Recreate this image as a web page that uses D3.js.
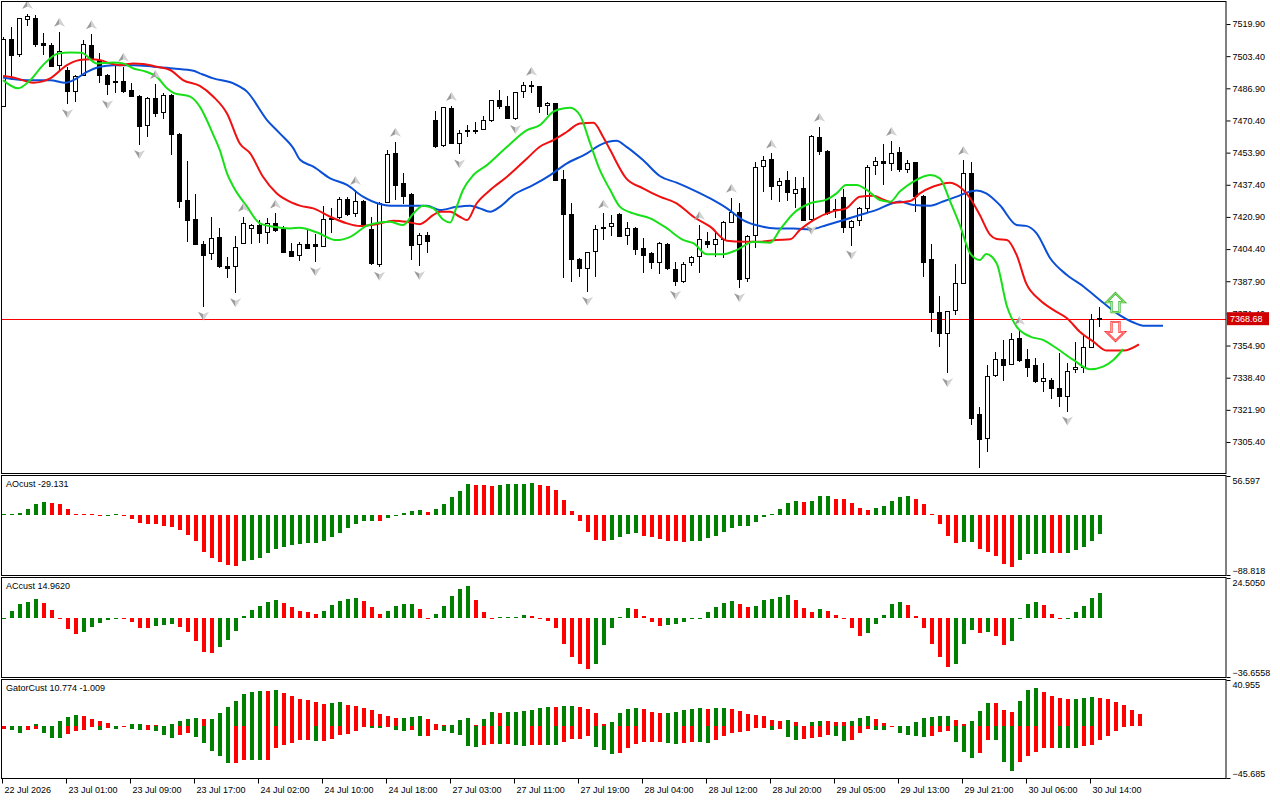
<!DOCTYPE html>
<html>
<head>
<meta charset="utf-8">
<script src="https://cdnjs.cloudflare.com/ajax/libs/d3/7.8.5/d3.min.js"></script>
<style>
	body { margin: 0; background: #ffffff; }
	svg text { font-family: "Liberation Sans", Arial, sans-serif; font-size: 9px; fill: #000000; }
</style>
</head>
<body>
<div id="chart"></div>
<script>
//H1 candles, oldest first
var opens = [7477.5,7511.7,7504.3,7522.3,7522.8,7509.8,7509.1,7498.7,7495.8,7485.3,7493.7,7509.1,7501.4,7493.7,7490.3,7490.6,7485.7,7482.9,7467.7,7481.7,
	7474.6,7483.3,7463.4,7429.1,7419.8,7406.8,7402.2,7410.6,7395.4,7395.4,7407.3,7415.0,7416.7,7413.0,7417.4,7414.5,7403.1,7401.3,7406.8,7406.5,
	7405.6,7419.6,7420.6,7429.6,7422.7,7429.0,7414.2,7396.5,7428.2,7453.5,7437.8,7432.5,7406.8,7411.6,7470.6,7457.4,7476.8,7458.6,7464.5,7465.0,
	7465.8,7470.3,7480.9,7477.8,7471.5,7485.2,7488.2,7487.7,7478.3,7479.2,7440.3,7421.9,7399.1,7394.5,7403.0,7415.0,7415.9,7421.9,7411.3,7415.0,
	7404.8,7401.9,7397.6,7406.8,7394.0,7387.7,7397.6,7400.5,7408.5,7406.7,7409.1,7418.1,7423.3,7389.4,7411.6,7447.0,7450.5,7436.8,7439.8,7433.0,
	7435.6,7419.7,7461.7,7454.4,7424.5,7431.0,7415.4,7419.3,7425.3,7447.5,7449.1,7448.4,7453.9,7445.0,7448.8,7431.3,7398.8,7372.0,7361.2,7372.8,
	7386.8,7443.3,7319.3,7307.3,7339.3,7347.5,7345.3,7358.3,7347.5,7344.4,7336.7,7337.2,7333.0,7328.7,7342.4,7343.7,7354.0,7368.4];
var highs = [7513.4,7518.5,7522.8,7525.0,7524.5,7515.1,7510.0,7515.9,7498.0,7493.7,7511.7,7514.6,7504.8,7494.1,7498.8,7498.0,7489.4,7483.4,7482.3,7489.1,
	7484.7,7483.8,7464.1,7449.6,7432.5,7408.5,7421.0,7415.0,7400.5,7411.1,7421.0,7417.3,7419.3,7420.2,7422.7,7416.2,7407.7,7408.0,7414.2,7412.1,
	7426.7,7425.3,7431.3,7430.9,7434.7,7429.6,7421.0,7428.7,7455.2,7459.5,7443.6,7433.0,7412.5,7413.3,7475.2,7477.2,7477.8,7465.5,7468.0,7469.6,
	7472.7,7480.9,7486.0,7482.9,7485.2,7490.3,7490.8,7488.1,7480.0,7479.5,7444.9,7427.8,7399.6,7402.7,7416.7,7422.7,7421.9,7422.7,7418.5,7415.9,
	7409.9,7403.1,7408.2,7407.3,7397.9,7397.9,7400.8,7416.8,7413.0,7413.3,7419.0,7430.8,7427.9,7411.6,7448.9,7452.2,7453.5,7440.7,7444.5,7441.6,
	7441.6,7463.0,7467.2,7455.2,7429.9,7435.1,7419.3,7426.2,7447.5,7451.8,7458.5,7459.9,7457.0,7450.1,7449.3,7432.2,7407.0,7380.5,7372.8,7396.8,
	7450.1,7449.3,7323.6,7344.9,7351.4,7357.8,7361.5,7362.9,7353.0,7348.4,7345.8,7338.1,7350.9,7346.1,7356.9,7360.3,7371.1,7374.9];
var lows = [7477.1,7491.1,7503.1,7518.9,7507.9,7504.0,7497.6,7495.4,7478.7,7480.0,7493.2,7501.4,7489.4,7483.4,7484.3,7484.7,7482.3,7457.8,7461.7,7472.3,
	7471.3,7452.7,7425.3,7408.2,7406.5,7374.8,7398.8,7394.5,7389.4,7381.7,7406.8,7406.8,7407.7,7406.8,7413.3,7402.5,7400.1,7398.4,7404.3,7397.6,
	7405.3,7412.8,7419.6,7421.3,7421.0,7415.5,7396.2,7395.3,7427.8,7429.6,7427.5,7398.8,7395.7,7402.5,7456.1,7456.9,7458.3,7453.0,7461.7,7463.4,
	7465.5,7469.8,7476.3,7471.0,7470.6,7482.1,7484.3,7474.0,7473.2,7439.5,7389.4,7387.7,7390.2,7382.5,7390.2,7409.0,7411.1,7410.8,7406.5,7401.4,
	7392.0,7394.0,7391.4,7393.7,7385.6,7387.2,7395.9,7392.3,7404.8,7400.5,7399.6,7418.0,7384.3,7387.7,7404.8,7433.9,7429.6,7428.7,7429.1,7425.3,
	7419.0,7419.0,7452.7,7421.9,7420.2,7412.8,7406.2,7416.2,7422.7,7442.4,7437.3,7444.6,7444.1,7443.6,7423.6,7389.9,7362.0,7354.0,7340.7,7370.6,
	7386.5,7314.2,7291.9,7300.5,7338.9,7336.9,7344.9,7346.6,7338.6,7335.5,7331.3,7327.3,7323.6,7321.0,7340.7,7340.7,7353.5,7364.6];
var closes = [7512.0,7503.6,7522.5,7523.7,7509.4,7509.1,7498.0,7505.7,7485.2,7493.0,7509.4,7502.3,7493.4,7489.1,7490.0,7485.2,7482.6,7467.2,7481.7,7474.0,
	7483.3,7463.3,7428.7,7419.0,7406.8,7401.3,7409.9,7395.4,7394.5,7405.3,7417.6,7416.4,7412.5,7417.6,7413.8,7402.7,7400.5,7406.8,7404.8,7405.8,
	7419.6,7420.0,7429.6,7421.9,7428.7,7415.9,7397.1,7427.8,7453.0,7436.9,7431.6,7406.1,7411.6,7408.2,7457.3,7477.1,7458.6,7463.8,7465.5,7465.1,
	7470.3,7480.4,7477.5,7471.5,7484.8,7488.6,7488.6,7477.5,7479.2,7439.8,7421.9,7398.8,7394.5,7402.5,7414.5,7415.5,7417.6,7411.1,7415.0,7404.3,
	7401.0,7397.4,7407.3,7394.5,7387.7,7396.6,7400.0,7409.1,7406.7,7409.4,7418.1,7423.1,7388.9,7410.8,7446.2,7450.1,7436.4,7439.3,7433.3,7435.2,
	7419.3,7462.4,7454.4,7422.7,7424.8,7415.4,7418.8,7425.3,7446.3,7449.1,7448.4,7453.5,7445.0,7448.4,7431.3,7397.5,7371.8,7361.2,7372.3,7386.8,
	7443.3,7317.6,7306.8,7338.9,7347.5,7344.6,7357.8,7347.2,7343.6,7336.4,7337.8,7333.0,7328.7,7341.5,7343.7,7354.0,7368.4,7368.68];
var bidPrice = 7368.68;

//Bars carrying a fractal arrow
var fractalUp = [3,7,11,15,19,30,34,44,49,56,66,75,87,91,96,102,111,120,127];
var fractalDown = [8,13,17,25,29,39,47,52,57,64,73,84,92,101,106,118,122,133];

//Alligator lines as [bar, price] points (they run past the last bar)
var jawPoints = [[0,7492.5],[3,7491.1],[5.9,7491.1],[7.8,7489.8],[9.2,7492.0],[10.5,7495.4],[12.1,7498.0],[13.8,7498.8],[16.3,7498.8],[18.8,7498.0],
	[21.3,7497.1],[23.8,7495.9],[24.6,7494.6],[26.3,7492.0],[28.8,7489.4],[30.5,7485.2],[33,7470.6],[34.6,7463.8],[36.3,7456.1],[37.1,7450.4],
	[38.8,7446.7],[40.9,7440.7],[43,7437.3],[45,7431.3],[47.1,7427.5],[48.4,7426.7],[50.5,7426.7],[53,7426.7],[54.6,7424.4],[56.7,7426.1],
	[58.4,7426.7],[59.6,7425.3],[60.9,7423.6],[62.1,7426.1],[63.8,7432.1],[66.3,7437.3],[68.4,7442.4],[70.5,7448.4],[73,7453.5],[74.6,7457.8],
	[76.7,7460.0],[77.9,7457.0],[80,7450.1],[82.1,7441.9],[84.2,7438.5],[86.3,7434.7],[88.4,7430.4],[90.5,7425.3],[92.5,7419.3],[94.6,7416.2],
	[96.7,7415.0],[98.8,7415.0],[100.9,7414.5],[103,7416.8],[105.1,7419.3],[107.1,7421.9],[109.2,7424.5],[110.9,7427.5],[112.1,7428.8],[113.8,7427.0],
	[115.9,7426.7],[117.5,7428.8],[119.2,7431.3],[120.5,7433.4],[121.7,7434.4],[122.9,7433.0],[124.6,7427.0],[126.7,7416.8],[127.9,7416.3],[129.2,7412.5],
	[130.9,7399.7],[133,7391.1],[135.1,7385.1],[137.1,7378.3],[139.2,7371.5],[141.3,7366.7],[142.5,7365.1],[145,7365.1]];
var teethPoints = [[0,7493.2],[1.3,7492.5],[3.8,7489.8],[5.9,7492.0],[8,7498.8],[9.6,7501.4],[10.9,7501.8],[12.1,7501.4],[13.4,7499.7],[14.6,7498.8],
	[16.3,7499.7],[17.5,7499.4],[19.2,7498.0],[20.9,7496.3],[22.5,7491.1],[24.6,7488.1],[26.3,7482.6],[28,7474.0],[29.6,7458.6],[30.9,7453.5],
	[32.5,7441.5],[34.2,7433.0],[36.3,7427.9],[37.1,7426.7],[38.8,7425.3],[40.9,7421.0],[43,7417.6],[44.6,7416.2],[46.7,7417.1],[48.8,7419.0],
	[50.5,7418.4],[52.1,7417.2],[53.8,7421.9],[54.6,7423.6],[55.9,7423.6],[57.1,7421.0],[58,7419.3],[59.2,7427.8],[60.9,7434.7],[63,7441.5],
	[65.5,7450.9],[67.1,7456.9],[68.8,7460.3],[70.5,7464.6],[72.1,7468.9],[73.8,7469.2],[75,7462.1],[75.9,7455.2],[77.9,7440.7],[80,7435.6],
	[82.1,7431.3],[84.2,7427.9],[86.3,7421.0],[88.4,7415.9],[90.5,7408.7],[92.5,7408.2],[94.6,7408.2],[96.7,7409.1],[98.4,7409.4],[99.6,7414.2],
	[101.3,7419.3],[103.8,7423.9],[105.4,7425.3],[107.1,7431.3],[108.8,7431.8],[110,7429.9],[111.3,7428.2],[113.4,7429.1],[114.6,7433.0],[116.3,7436.5],
	[118.4,7438.5],[119.2,7437.3],[120.9,7430.5],[122.1,7421.9],[123.4,7411.7],[124.2,7409.6],[125.5,7409.1],[126.7,7401.4],[127.9,7386.8],[129.6,7378.3],
	[131.3,7373.2],[133,7368.9],[134.6,7362.0],[136.3,7356.9],[138,7352.3],[140.1,7352.3],[142,7355.5]];
var lipsPoints = [[0,7491.1],[1.9,7486.9],[3.4,7491.1],[5,7498.8],[6.9,7504.8],[8.4,7505.3],[9.8,7505.2],[11.7,7499.7],[13.8,7500.2],[15,7499.7],
	[16.3,7497.1],[17.9,7495.4],[19.2,7492.9],[20.5,7486.9],[21.3,7484.6],[23.4,7482.6],[24.6,7477.5],[26.3,7462.9],[27.1,7455.2],[28,7443.3],
	[28.8,7436.4],[30.5,7426.2],[32.1,7417.6],[33.8,7415.9],[35.9,7415.0],[37.1,7415.4],[39.2,7413.0],[41.7,7409.0],[43.4,7410.7],[45.5,7416.4],
	[47.1,7418.1],[48.4,7418.4],[50,7416.7],[51.3,7422.7],[52.5,7426.7],[53.8,7425.3],[55,7419.6],[55.9,7418.1],[56.7,7426.1],[57.5,7434.7],
	[58.8,7442.4],[60.5,7447.5],[63,7456.9],[65.5,7465.5],[67.1,7468.0],[68.8,7474.9],[70,7476.6],[70.9,7476.9],[72.1,7473.2],[73.4,7458.6],
	[74.6,7445.0],[75.9,7434.7],[77.1,7426.2],[78.8,7422.7],[80.9,7420.2],[83,7415.0],[85,7409.1],[86.3,7407.4],[88,7401.7],[90,7401.7],
	[91.7,7403.9],[93.8,7408.2],[95.9,7407.7],[97.1,7414.2],[98.8,7422.7],[100.9,7427.9],[103,7429.9],[104.2,7433.0],[105.4,7437.3],[106.7,7437.3],
	[108,7434.7],[109.6,7429.6],[110.9,7428.7],[112.1,7433.9],[113.8,7439.0],[115.9,7442.4],[117.1,7440.7],[118.4,7428.8],[119.6,7416.8],[120.9,7402.2],
	[122.1,7398.8],[122.9,7401.9],[124.2,7397.1],[125.5,7374.9],[126.7,7364.6],[128.4,7359.5],[130,7357.8],[131.7,7353.5],[133.8,7347.5],[135.9,7342.7],
	[137.5,7344.1],[138.8,7347.5],[140,7353.0]];

//Signal arrows at the right end: [bar, price]
var signalUp = [139, 7376.9];
var signalDown = [139, 7362.1];

//Awesome oscillator, one value per bar
var aoValues = [0.3,1.5,2.0,7.5,16,18.5,17.5,15.5,8,0.8,0.5,0.2,-0.3,-0.1,0.1,-0.5,-7,-12,-13.5,-14.5,
	-16.5,-19,-22,-29.5,-39.5,-55,-63.5,-69.5,-74,-76,-68.5,-66.5,-64.5,-56,-51,-47.5,-45,-43.5,-42.5,-41.5,
	-38.5,-33,-26.5,-20,-13.5,-10,-9.8,-10,-5,-0.3,2.5,4.5,7,3.5,7.5,16,26,34.5,45,43.5,
	43,41.5,44,44.2,44.4,45.5,45.7,44,42.5,36.5,21.5,5,-9.5,-26,-38,-38.2,-37,-33.5,-28.5,-27,
	-31,-33.5,-36.5,-38.5,-38.7,-41,-39.5,-39.3,-35,-31,-26,-20,-17,-16.8,-11,-3.5,1.5,8,17.5,20,
	18.5,20.2,26.5,26.7,23.5,23,17,9,6.5,9,13,20,25.5,26.5,22.5,15.5,1.5,-14.5,-31.5,-42.5,
	-41,-40.8,-50,-54.5,-61,-72.5,-77,-66.5,-58.5,-57.5,-56,-56.2,-56.4,-56,-51.5,-47.5,-38.5,-29.131];

//Accelerator oscillator, one value per bar
var acValues = [-0.5,4.4,8.6,9.5,11.5,9.2,5.0,-0.3,-6.7,-9.9,-8.8,-5.5,-3.6,-1.7,-0.3,-0.6,-2.9,-6.1,-6.2,-5.0,
	-4.4,-4.0,-5.5,-8.6,-14.5,-21.4,-21.8,-18.0,-13.9,-8.2,1.2,5.0,7.1,9.5,10.7,9.0,6.3,4.4,3.6,2.5,
	4.4,7.6,10.1,11.6,12.0,10.1,6.3,2.5,4.0,6.9,8.2,8.3,5.3,-0.2,2.3,6.9,13.2,17.6,19.5,10.7,
	3.8,-0.3,0.2,0.3,0.6,1.5,1.1,-0.8,-2.3,-6.1,-16.2,-24.4,-28.8,-32.0,-28.8,-16.6,-6.1,0.6,5.7,5.6,
	1.0,-2.9,-5.0,-4.4,-4.2,-2.9,-0.8,-0.4,3.4,6.3,8.8,10.1,8.2,6.3,7.1,10.9,11.6,12.6,13.9,10.9,
	5.9,3.4,5.3,4.4,1.9,-0.2,-6.1,-11.1,-9.5,-3.8,1.9,8.2,9.5,7.6,1.3,-6.1,-16.2,-24.4,-30.7,-28.4,
	-16.2,-7.4,-9.2,-8.6,-11.1,-16.8,-14.3,-0.1,8.2,9.5,7.6,2.5,-0.1,0.1,3.2,6.9,12.0,14.962];

//Gator oscillator: upper runs to bar 142, lower to bar 140
var gatorUpper = [0,0,0,0,1.8,0.6,0,5.1,8.1,9.9,8.7,6.3,5.1,2.7,0,0,1.8,2.1,0.9,0.9,
	0,1.8,4.5,6.3,7.5,6.3,6.9,11.4,17.1,22.2,28.5,30.6,31.2,31.1,32.1,29.1,26.7,24.0,23.4,21.3,
	20.1,20.2,21.3,19.2,18.3,15.9,14.1,10.8,9.0,7.2,7.8,8.1,9.0,6.3,1.8,0.9,1.0,5.4,7.2,0.9,
	6.3,12.3,11.4,12.3,12.4,13.2,14.1,15.9,16.8,16.7,17.7,17.8,16.8,15.0,11.4,2.4,4.2,11.4,15.0,15.9,
	15.0,12.3,11.4,11.5,12.3,14.1,15.0,15.9,15.0,15.9,16.0,15.0,13.2,10.5,9.6,8.7,6.0,5.1,5.2,4.2,
	0,4.2,5.1,5.0,4.2,4.1,5.1,7.8,8.7,6.9,3.3,0,0,0,4.2,7.2,8.1,8.7,8.8,6.0,
	1.8,5.1,13.2,20.4,20.3,14.1,12.3,22.2,32.1,33.9,30.3,27.0,24.9,24.0,24.1,24.9,25.8,24.9,24.0,21.3,
	18.9,14.1,10.774];
var gatorLower = [-2.7,-3.6,-6.3,-3.6,-2.7,-6.3,-9.9,-10.2,-7.2,-4.5,-3.6,-0.9,-3.6,-1.8,-2.7,-0.6,-2.7,-3.6,-3.6,-4.5,
	-7.8,-9.9,-7.8,-6.3,-9.0,-14.4,-21.9,-26.1,-32.4,-32.3,-29.7,-30.0,-30.1,-29.9,-18.9,-16.8,-14.7,-11.7,-11.7,-12.9,
	-12.9,-11.1,-7.8,-6.9,-3.9,-0.9,-1.8,-1.9,-0.9,-3.6,-3.7,-3.0,-8.4,-8.4,-3.0,-3.9,-5.7,-7.5,-17.4,-18.3,
	-16.5,-15.6,-15.7,-15.6,-16.5,-17.4,-16.5,-16.5,-16.6,-16.7,-13.8,-11.1,-10.8,-8.4,-18.3,-21.0,-24.6,-23.7,-19.2,-15.6,
	-13.8,-13.8,-13.8,-14.7,-15.6,-14.7,-13.8,-13.9,-14.7,-12.0,-8.4,-5.7,-4.8,-3.9,-1.2,-1.2,-3.0,-2.1,-9.3,-12.0,
	-11.1,-10.2,-9.3,-7.5,-8.4,-12.9,-12.0,-5.7,-2.1,-3.0,-3.1,-0.6,-5.7,-7.5,-8.4,-9.3,-8.4,-4.8,-3.9,-13.8,
	-22.8,-28.2,-23.7,-12.0,-12.1,-31.8,-39.9,-31.8,-26.4,-22.8,-19.2,-19.2,-19.3,-19.4,-19.5,-17.4,-16.5,-12.0,-8.4,-3.9,
	-1.009];

//Axis labels
var priceTicks = [7519.90,7503.40,7486.90,7470.40,7453.90,7437.40,7420.90,7404.40,7387.90,7371.40,7354.90,7338.40,7321.90,7305.40];
var timeLabels = ["22 Jul 2026","23 Jul 01:00","23 Jul 09:00","23 Jul 17:00","24 Jul 02:00","24 Jul 10:00","24 Jul 18:00","27 Jul 03:00","27 Jul 11:00",
	"27 Jul 19:00","28 Jul 04:00","28 Jul 12:00","28 Jul 20:00","29 Jul 05:00","29 Jul 13:00","29 Jul 21:00","30 Jul 06:00","30 Jul 14:00"];
var labelStep = 8;

//Panel geometry
var plotRight = 1226;
var panels = {
	main:  {top: 1, bottom: 473, min: 7290.0, max: 7531.2},
	ao:    {top: 475, bottom: 575, min: -88.818, max: 56.597, label: "AOcust -29.131"},
	ac:    {top: 577, bottom: 677, min: -36.6558, max: 24.5050, label: "ACcust 14.9620"},
	gator: {top: 679, bottom: 778, min: -45.685, max: 40.955, label: "GatorCust 10.774 -1.009"}
};

var green = "#008000", red = "#ff0000";

var svg = d3.select("#chart")
	.append("svg")
	.attr("width", 1280)
	.attr("height", 800);

//One bar every 8 px
var x = d3.scaleLinear()
	.domain([0, 137])
	.range([3, 3 + 8 * 137]);

var yMain = d3.scaleLinear()
	.domain([panels.main.min, panels.main.max])
	.range([panels.main.bottom - 1, panels.main.top + 1]);

function panelScale(p)
{
	return d3.scaleLinear()
		.domain([p.min, p.max])
		.range([p.bottom, p.top + 1]);
}
var yAO = panelScale(panels.ao);
var yAC = panelScale(panels.ac);
var yGator = panelScale(panels.gator);

//Clip for every panel
Object.keys(panels).forEach(function(key)
{
	var p = panels[key];
	svg.append("clipPath")
		.attr("id", "clip-" + key)
		.append("rect")
		.attr("x", 1)
		.attr("y", p.top)
		.attr("width", plotRight - 1)
		.attr("height", p.bottom - p.top);
});

function panelGroup(key)
{
	return svg.append("g").attr("clip-path", "url(#clip-" + key + ")");
}

//Main chart
var mainG = panelGroup("main");

//Bid line sits under the candles
var bidY = yMain(bidPrice);
mainG.append("rect")
	.attr("class", "bid-line")
	.attr("x", 1)
	.attr("y", Math.round(bidY))
	.attr("width", plotRight - 1)
	.attr("height", 1)
	.style("fill", "#ff0000");

var bars = d3.range(opens.length);

mainG.selectAll(".wick")
	.data(bars)
	.enter()
	.append("line")
	.attr("class", "wick")
	.attr("x1", function(i){ return x(i) + 0.5 })
	.attr("x2", function(i){ return x(i) + 0.5 })
	.attr("y1", function(i){ return yMain(highs[i]) })
	.attr("y2", function(i){ return yMain(lows[i]) })
	.attr("stroke", "#000")
	.attr("stroke-width", 1)
	.attr("shape-rendering", "crispEdges");

mainG.selectAll(".body")
	.data(bars)
	.enter()
	.append("rect")
	.attr("class", "body")
	.attr("x", function(i){ return x(i) - 1.5 })
	.attr("width", 4)
	.attr("y", function(i){ return yMain(Math.max(opens[i], closes[i])) })
	.attr("height", function(i){ return Math.max(1, Math.abs(yMain(opens[i]) - yMain(closes[i]))) })
	.attr("fill", function(i){ return closes[i] >= opens[i] ? "#ffffff" : "#000000" })
	.attr("stroke", "#000")
	.attr("stroke-width", 1)
	.attr("shape-rendering", "crispEdges");

//Alligator
var lineGen = d3.line()
	.x(function(d){ return x(d[0]) })
	.y(function(d){ return yMain(d[1]) })
	.curve(d3.curveMonotoneX);

[[jawPoints, "#0a4fd6"], [teethPoints, "#f01010"], [lipsPoints, "#18e018"]].forEach(function(s)
{
	mainG.append("path")
		.datum(s[0])
		.attr("fill", "none")
		.attr("stroke", s[1])
		.attr("stroke-width", 2)
		.attr("d", lineGen);
});

//Fractal arrows, drawn as two shaded halves
function drawFractals(list, isUp)
{
	var s = isUp ? 1 : -1;
	var g = mainG.selectAll(isUp ? ".fup" : ".fdown")
		.data(list)
		.enter()
		.append("g")
		.attr("class", isUp ? "fup" : "fdown")
		.attr("transform", function(i){
			var py = isUp ? yMain(highs[i]) - 9 : yMain(lows[i]) + 9;
			return "translate(" + (x(i) + 0.5) + "," + py + ")";
		});
	g.append("path")
		.attr("d", "M0," + (-5 * s) + " L0," + (1.5 * s) + " L-5.5," + (4 * s) + " Z")
		.attr("fill", "#9c9c9c");
	g.append("path")
		.attr("d", "M0," + (-5 * s) + " L5.5," + (4 * s) + " L0," + (1.5 * s) + " Z")
		.attr("fill", "#d2d2d2");
}
drawFractals(fractalUp, true);
drawFractals(fractalDown, false);

//Hollow signal arrows
function drawSignal(sig, isUp, outer, inner)
{
	var s = isUp ? 1 : -1;
	var pts = [[0,-9.5],[9,-0.5],[4,-0.5],[4,9.5],[-4,9.5],[-4,-0.5],[-9,-0.5]];
	var d = "M" + pts.map(function(p){ return p[0] + "," + (p[1] * s) }).join(" L") + " Z";
	var g = mainG.append("g")
		.attr("transform", "translate(" + (x(sig[0]) + 0.5) + "," + yMain(sig[1]) + ")");
	g.append("path").attr("d", d).attr("fill", "#ffffff").attr("stroke", outer).attr("stroke-width", 2.2);
	g.append("path").attr("d", d).attr("fill", "none").attr("stroke", inner).attr("stroke-width", 0.8);
}
drawSignal(signalUp, true, "#2fb42f", "#d8f5a0");
drawSignal(signalDown, false, "#ff2a2a", "#ffc0c8");

//Histograms
function drawHistogram(key, values, yScale, colorOf)
{
	var g = panelGroup(key);
	g.selectAll("rect")
		.data(values)
		.enter()
		.append("rect")
		.attr("x", function(d, i){ return x(i) - 1.5 })
		.attr("width", 4)
		.attr("y", function(d){ return Math.min(yScale(d), yScale(0)) })
		.attr("height", function(d){ return Math.max(1, Math.abs(yScale(d) - yScale(0))) })
		.attr("fill", function(d, i){ return colorOf(values, i) })
		.attr("shape-rendering", "crispEdges");
}

//AO / AC: green while rising
function risingColor(values, i)
{
	if(i == 0) return green;
	return values[i] > values[i - 1] ? green : red;
}

//Gator: green while the bar grows away from zero
function gatorColor(values, i)
{
	if(i == 0) return red;
	return Math.abs(values[i]) > Math.abs(values[i - 1]) ? green : red;
}

drawHistogram("ao", aoValues, yAO, risingColor);
drawHistogram("ac", acValues, yAC, risingColor);
drawHistogram("gator", gatorUpper, yGator, gatorColor);
drawHistogram("gator", gatorLower, yGator, gatorColor);

//Frames and sub-window names
Object.keys(panels).forEach(function(key)
{
	var p = panels[key];
	svg.append("rect")
		.attr("x", 1.5)
		.attr("y", p.top + 0.5)
		.attr("width", plotRight - 1.5)
		.attr("height", p.bottom - p.top)
		.attr("fill", "none")
		.attr("stroke", "#000")
		.attr("stroke-width", 1);

	if(p.label)
	{
		svg.append("text")
			.attr("x", 6)
			.attr("y", p.top + 12)
			.text(p.label);
	}
});

//Price axis
var priceAxis = svg.append("g")
	.attr("transform", "translate(" + (plotRight + 0.5) + ",0)")
	.call(d3.axisRight(yMain)
		.tickValues(priceTicks)
		.tickSize(4)
		.tickPadding(2)
		.tickFormat(d3.format(".2f")));
priceAxis.select(".domain").remove();

//Sub-window max/min labels
[["ao", yAO, d3.format(".3f")], ["ac", yAC, d3.format(".4f")], ["gator", yGator, d3.format(".3f")]].forEach(function(a)
{
	var p = panels[a[0]];
	var ax = svg.append("g")
		.attr("transform", "translate(" + (plotRight + 0.5) + ",0)")
		.call(d3.axisRight(a[1])
			.tickValues([p.max, p.min])
			.tickSize(4)
			.tickPadding(2)
			.tickFormat(a[2]));
	ax.select(".domain").remove();
	ax.selectAll(".tick text")
		.attr("dy", function(d){ return d == p.max ? "0.85em" : "-0.15em" });
});

//Time axis
var timeAxis = svg.append("g")
	.attr("transform", "translate(-1," + (panels.gator.bottom + 0.5) + ")")
	.call(d3.axisBottom(x)
		.tickValues(d3.range(0, timeLabels.length * labelStep, labelStep))
		.tickSize(5)
		.tickPadding(3)
		.tickFormat(function(d, i){ return timeLabels[i] }));
timeAxis.select(".domain").remove();
timeAxis.selectAll(".tick text")
	.attr("text-anchor", "start")
	.attr("dx", 2);

svg.selectAll(".tick text").style("font-size", "9px");

//Bid price tag over the axis (it hides most of the 7371.40 label, as on the terminal)
svg.append("rect")
	.attr("x", plotRight + 1)
	.attr("y", bidY - 6.5)
	.attr("width", 42)
	.attr("height", 13)
	.attr("fill", "#d00000");
svg.append("text")
	.attr("x", plotRight + 4)
	.attr("y", bidY + 3.5)
	.style("fill", "#ffffff")
	.text(d3.format(".2f")(bidPrice));
</script>
</body>
</html>
